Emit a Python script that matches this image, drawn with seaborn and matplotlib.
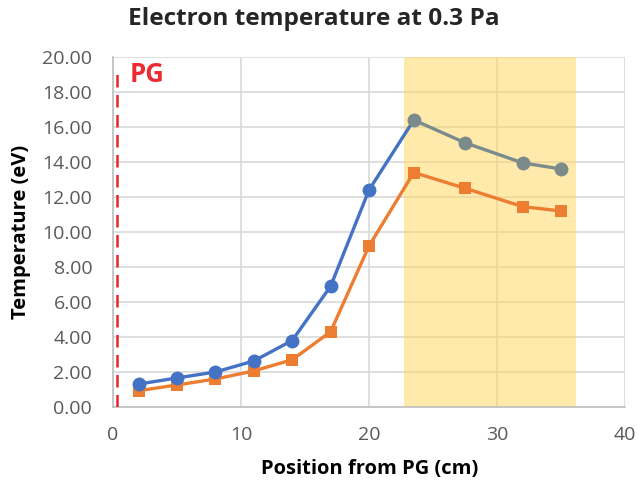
import matplotlib
matplotlib.use("Agg")
import matplotlib.pyplot as plt
import seaborn as sns
import numpy as np

sns.set_theme(style="white")
plt.rcParams['font.family'] = ['Open Sans', 'DejaVu Sans']

positions = [2, 5, 8, 11, 14, 17, 20, 23.5, 27.5, 32, 35]
temp_blue = [1.31, 1.66, 2.0, 2.63, 3.8, 6.9, 12.4, 16.4, 15.1, 13.95, 13.6]
temp_orange = [0.93, 1.26, 1.6, 2.06, 2.7, 4.3, 9.2, 13.4, 12.5, 11.45, 11.2]
n_blue = 7  # points up to 20 cm drawn in blue; rest in grey
shade_range = (22.7, 36.2)
pg_x = 0.35

fig = plt.figure(figsize=(6.38, 4.88), dpi=100)
ax = fig.add_axes([113/638, 1-407/488, (625-113)/638, (407-57)/488])

blue = '#4472C4'
orange = '#ED7D31'
grey = '#7B8B8B'

ax.axvspan(*shade_range, color='#FFD966', alpha=0.55, lw=0, zorder=1)

# orange series
sns.lineplot(x=positions, y=temp_orange, ax=ax, color=orange, lw=2.4,
             marker='s', markersize=8.5, markeredgewidth=0, zorder=3)
# blue series
sns.lineplot(x=positions[:n_blue], y=temp_blue[:n_blue], ax=ax, color=blue, lw=2.4,
             marker='o', markersize=10, markeredgewidth=0, zorder=3)
sns.lineplot(x=positions[n_blue-1:n_blue+1], y=temp_blue[n_blue-1:n_blue+1], ax=ax,
             color=blue, lw=2.4, zorder=3)
sns.lineplot(x=positions[n_blue:], y=temp_blue[n_blue:], ax=ax, color=grey, lw=2.4,
             marker='o', markersize=10, markeredgewidth=0, zorder=4)

ax.axvline(pg_x, ymax=19.3/20, color='#E8242B', lw=1.8, ls=(0, (5, 3)), zorder=5)
ax.text(1.3, 19.0, 'PG', color='#EE2A30', fontsize=18.5, fontweight='bold',
        va='center', ha='left', zorder=6)

ax.set_xlim(0, 40)
ax.set_ylim(0, 20)
ax.set_xticks([0, 10, 20, 30, 40])
ax.set_yticks(np.arange(0, 20.01, 2))
ax.set_yticklabels([f'{v:.2f}' for v in np.arange(0, 20.01, 2)])
ax.grid(True, color='#D9D9D9', lw=1.2, zorder=0)
ax.set_axisbelow(True)
for s in ['top', 'right']:
    ax.spines[s].set_visible(False)
for s in ['left', 'bottom']:
    ax.spines[s].set_color('#BFBFBF')
    ax.spines[s].set_linewidth(1.2)
ax.tick_params(axis='both', colors='#595959', labelsize=14, length=0)
ax.tick_params(axis='y', pad=15)
ax.tick_params(axis='x', pad=14)
ax.set_xlabel('Position from PG (cm)', fontsize=14.5, fontweight='bold', color='black')
ax.set_ylabel('Temperature (eV)', fontsize=14.5, fontweight='bold', color='black')
ax.xaxis.set_label_coords((370-113)/512, (407-459)/350)
ax.yaxis.set_label_coords((31-113)/512, 0.5)
fig.suptitle('Electron temperature at 0.3 Pa', x=0.492, y=1-19/488, fontsize=17.6, fontweight='bold', va='center')

fig.savefig('out.png', dpi=100)
